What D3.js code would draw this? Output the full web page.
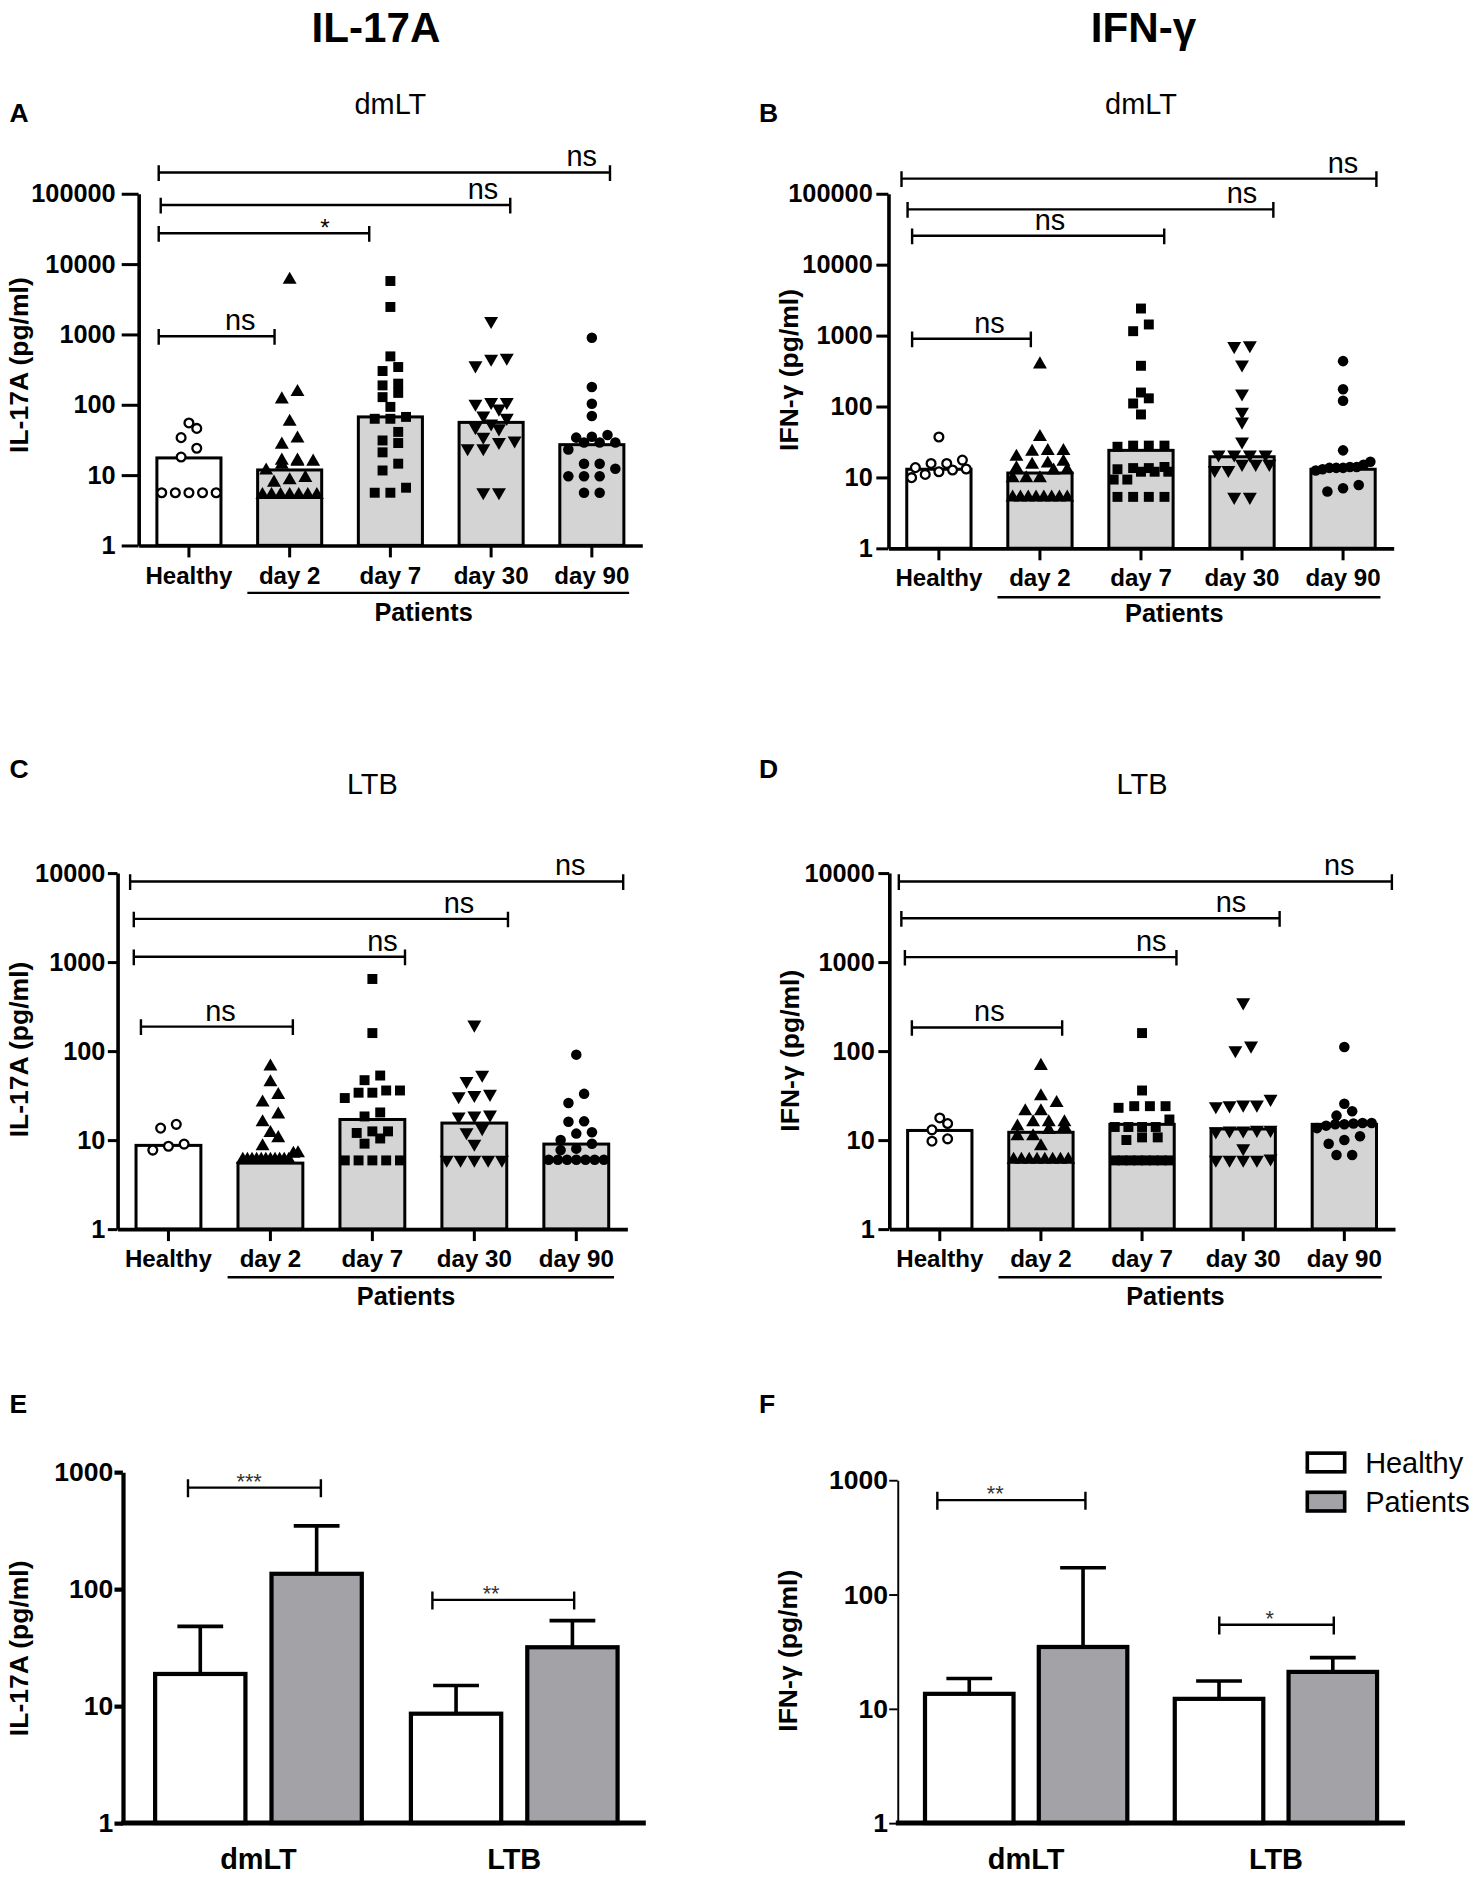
<!DOCTYPE html>
<html>
<head>
<meta charset="utf-8">
<script src="https://cdn.jsdelivr.net/npm/d3@7"></script>
<style>
  body { margin: 0; background: #fff; }
  svg text { font-family: Arial, "Liberation Sans", sans-serif; fill: #000; }
</style>
</head>
<body>
<script>
// ---------- data ----------
var categories = ["Healthy", "day 2", "day 7", "day 30", "day 90"];
var stimuli = ["dmLT", "LTB"];
var groups = ["Healthy", "Patients"];

// A  IL-17A, dmLT
var il17DmltBars = [17.5, 11.8, 67, 56, 27];
var il17DmltDots = [
  [55, 46, 34, 24, 18, 5.6, 5.6, 5.6, 5.6, 5.6],
  [5980, 151, 119, 57, 33, 27, 16, 16, 15.5, 15.5, 14, 11.6, 9.1, 8.4, 7.8, 5.2, 5.2, 5.2, 5.2, 5.2, 5.2, 5.2],
  [5730, 2450, 486, 343, 301, 199, 188, 147, 128, 93, 67, 63, 63, 41, 31, 28.5, 21, 14.5, 11.6, 6.6, 5.6, 5.6],
  [1550, 466, 451, 362, 109, 109, 103, 88, 70, 65, 54, 48, 46, 35, 31, 29.5, 24, 24, 5.7, 5.7],
  [897, 178, 103, 69, 37, 35, 34, 29, 29, 29, 23, 14.5, 14.5, 12.3, 9.6, 9.6, 9.6, 5.6, 5.6]
];
var il17DmltSig = ["ns", "*", "ns", "ns"];
var il17DmltSigLevels = [940, 27300, 69000, 200000];

// B  IFN-g, dmLT
var ifnDmltBars = [13, 11.5, 24, 19.5, 13];
var ifnDmltDots = [
  [37, 17.5, 15.7, 15.7, 13.7, 13.1, 12.7, 12, 11, 9.9],
  [391, 37, 23.5, 23.5, 23, 19.5, 16.6, 15.7, 15, 13.4, 12.7, 12.5, 9.7, 9.7, 9.7, 5.2, 5.2, 5.2, 5.2, 5.2, 5.2, 5.2, 5.2],
  [2400, 1430, 1150, 374, 157, 130, 110, 77, 28, 28, 28, 27, 14, 13.5, 13.5, 13, 12, 12, 12, 9.3, 9.3, 5.3, 5.3, 5.3, 5.3],
  [730, 708, 390, 152, 84, 61, 32, 21, 21, 21, 21, 15.5, 15.5, 15.5, 12.7, 12.7, 5.3, 5.3],
  [435, 175, 120, 24, 16.6, 15, 14, 14, 13.6, 13.6, 13.6, 13, 12.5, 7.8, 7, 6.3]
];
var ifnDmltSig = ["ns", "ns", "ns", "ns"];
var ifnDmltSigLevels = [900, 25500, 60100, 163000];

// C  IL-17A, LTB
var il17LtbBars = [8.7, 5.5, 17, 15.5, 9];
var il17LtbDots = [
  [15, 13.6, 9, 8.5, 7.7],
  [67, 44.5, 32, 26.4, 19.3, 15.8, 12, 10.5, 8.5, 7.1, 7, 6, 6, 6, 6, 6, 6, 6, 6, 6, 6, 6],
  [644, 159, 53, 47, 36, 36, 34, 34, 29.6, 20.4, 18.4, 12.5, 12.5, 12, 10.4, 9.1, 5.9, 5.9, 5.9, 5.9, 5.9],
  [198, 54, 46, 33, 32, 31, 19.3, 18.8, 18.4, 13.6, 12.2, 9.1, 6, 6, 6, 6, 6],
  [91, 33, 26, 16.2, 16, 12.2, 11.8, 10, 9.1, 8, 7.7, 6, 6, 6, 6, 6, 6, 6]
];
var il17LtbSig = ["ns", "ns", "ns", "ns"];
var il17LtbSigLevels = [188, 1143, 3050, 8020];

// D  IFN-g, LTB
var ifnLtbBars = [12.8, 12.2, 15, 13.3, 15];
var ifnLtbDots = [
  [17.7, 15.3, 13, 10.3, 9.7],
  [68, 31, 26, 21, 21, 15.8, 15.8, 15.8, 14.2, 14, 13, 11, 11, 8.5, 6, 6, 6, 6, 6, 6, 6, 6],
  [159, 36, 24, 24, 24, 23, 17, 14, 14, 14, 14, 10.7, 10.7, 10, 5.9, 5.9, 5.9, 5.9, 5.9, 5.9, 5.9, 5.9],
  [352, 115, 102, 29, 25, 25, 24.5, 24, 13, 13, 12.8, 12.8, 12.5, 8.1, 6.2, 6, 6, 6, 6],
  [111, 25.6, 21, 18.8, 15.5, 15.5, 15.3, 15, 15, 14.5, 13.6, 11, 10, 9.1, 6.8, 6.8]
];
var ifnLtbSig = ["ns", "ns", "ns", "ns"];
var ifnLtbSigLevels = [184, 1133, 3100, 8020];

// E  IL-17A summary (mean, upper error)
var il17HealthyMean = [18.8, 8.6];
var il17HealthyErr = [48, 15];
var il17PatientMean = [135, 31.8];
var il17PatientErr = [347, 53.7];
var il17SumSig = ["***", "**"];
var il17SumSigLevels = [736, 80.8];

// F  IFN-g summary
var ifnHealthyMean = [13.5, 12.2];
var ifnHealthyErr = [18.4, 17.5];
var ifnPatientMean = [34.7, 21];
var ifnPatientErr = [171, 28];
var ifnSumSig = ["**", "*"];
var ifnSumSigLevels = [668, 54.2];

// ---------- canvas ----------
var W = 1225, H = 1566.9;
var svg = d3.select("body").append("svg")
    .attr("width", 1476)
    .attr("height", 1888)
    .attr("viewBox", "0 0 " + W + " " + H);

svg.append("text").attr("x", 312).attr("y", 34.5)
    .attr("text-anchor", "middle").style("font-size", "35px").style("font-weight", "bold")
    .text("IL-17A");
svg.append("text").attr("x", 949).attr("y", 34.5)
    .attr("text-anchor", "middle").style("font-size", "35px").style("font-weight", "bold")
    .text("IFN-γ");

// scatter-dot layout: points closer than rowH pixels share a row and are spread sideways
function swarm(vals, y, rowH, maxW, gap) {
  var pts = vals.slice().sort(d3.ascending).map(function(v) { return { v: v, y: y(v), dx: 0 }; });
  var rows = [], cur = null;
  pts.forEach(function(p) {
    if (cur && cur[0].y - p.y < rowH) cur.push(p);
    else { cur = [p]; rows.push(cur); }
  });
  rows.forEach(function(r) {
    var n = r.length;
    if (n === 1) return;
    var s = Math.min(gap, maxW / (n - 1));
    r.forEach(function(p, i) { p.dx = (i - (n - 1) / 2) * s; });
  });
  return pts;
}

var shapes = [d3.symbolCircle, d3.symbolTriangle, d3.symbolSquare, d3.symbolTriangle, d3.symbolCircle];
var shapeSize = [42, 58, 68, 58, 60];

function dotPanel(cfg) {
  var g = svg.append("g");
  var x = d3.scaleBand().domain(categories).range([cfg.x0, cfg.x1])
      .paddingInner(0.364).paddingOuter(0.182);
  var y = d3.scaleLog().domain([1, cfg.top]).range([cfg.yb, cfg.yt]);
  var cx = function(i) { return x(categories[0]) + x.bandwidth() / 2 + i * x.step(); };
  var ticks = d3.range(0, Math.log10(cfg.top) + 1).map(function(p) { return Math.pow(10, p); });

  // bars
  g.selectAll(".bar").data(cfg.bars).enter().append("rect")
      .attr("x", function(d, i) { return x(categories[i]); })
      .attr("width", x.bandwidth())
      .attr("y", function(d) { return y(d); })
      .attr("height", function(d) { return cfg.yb - y(d); })
      .attr("fill", function(d, i) { return i === 0 ? "#fff" : "#d4d4d4"; })
      .attr("stroke", "#000").attr("stroke-width", 2.5);

  // dots
  cfg.dots.forEach(function(vals, i) {
    var pts = swarm(vals, y, 8, x.bandwidth() - 8, 13);
    g.selectAll(".dot" + i).data(pts).enter().append("path")
        .attr("d", d3.symbol().type(shapes[i]).size(shapeSize[i]))
        .attr("transform", function(p) {
          return "translate(" + (cx(i) + p.dx) + "," + p.y + ")" + (i === 3 ? " rotate(180)" : "");
        })
        .attr("fill", i === 0 ? "#fff" : "#000")
        .attr("stroke", "#000")
        .attr("stroke-width", i === 0 ? 1.9 : 0);
  });

  // axes
  var ya = g.append("g").attr("transform", "translate(" + cfg.x0 + ",0)")
      .call(d3.axisLeft(y).tickValues(ticks).tickFormat(d3.format("d"))
        .tickSize(cfg.tick).tickPadding(cfg.pad).tickSizeOuter(0));
  ya.select(".domain").attr("stroke-width", 3);
  ya.selectAll(".tick line").attr("stroke-width", 2.5);
  ya.selectAll("text").style("font-size", "21px").style("font-weight", "bold");

  var xa = g.append("g").attr("transform", "translate(0," + cfg.yb + ")")
      .call(d3.axisBottom(x).tickSize(10).tickPadding(7.5).tickSizeOuter(0));
  xa.select(".domain").attr("stroke-width", 3);
  xa.selectAll(".tick line").attr("stroke-width", 2.5);
  xa.selectAll("text").style("font-size", "20px").style("font-weight", "bold");

  // patients underline
  g.append("line").attr("x1", cx(0.58)).attr("x2", cx(4.37))
      .attr("y1", cfg.lineY).attr("y2", cfg.lineY)
      .attr("stroke", "#000").attr("stroke-width", 2);
  g.append("text").attr("x", cx(2.33)).attr("y", cfg.patientsY)
      .attr("text-anchor", "middle").style("font-size", "21px").style("font-weight", "bold")
      .text("Patients");

  // significance brackets
  cfg.sig.forEach(function(lab, k) {
    var geo = cfg.sigGeo[k], by = y(cfg.sigLevels[k]);
    var xa1 = cx(geo[0]), xb = cx(geo[1]);
    g.append("path")
        .attr("d", "M" + xa1 + "," + (by - 6) + "V" + (by + 7) + "M" + xa1 + "," + by +
                   "H" + xb + "M" + xb + "," + (by - 6) + "V" + (by + 7))
        .attr("fill", "none").attr("stroke", "#000").attr("stroke-width", 2);
    g.append("text").attr("x", cx(geo[2]))
        .attr("y", lab === "ns" ? by - 5 : by + 2)
        .attr("text-anchor", "middle")
        .style("font-size", lab === "ns" ? "24px" : "20px")
        .text(lab);
  });

  // titles
  g.append("text").attr("x", cfg.letterX).attr("y", cfg.letterY)
      .style("font-size", "22px").style("font-weight", "bold").text(cfg.letter);
  g.append("text").attr("x", (cfg.x0 + cfg.x1) / 2).attr("y", cfg.titleY)
      .attr("text-anchor", "middle").style("font-size", "24px").text(cfg.title);
  g.append("text")
      .attr("transform", "translate(" + cfg.ylabX + "," + cfg.ylabY + ") rotate(-90)")
      .attr("text-anchor", "middle").attr("dominant-baseline", "central")
      .style("font-size", "22px").style("font-weight", "bold").text(cfg.ylab);
}

dotPanel({
  letter: "A", title: "dmLT", ylab: "IL-17A (pg/ml)",
  bars: il17DmltBars, dots: il17DmltDots, sig: il17DmltSig, sigLevels: il17DmltSigLevels,
  sigGeo: [[-0.3, 0.85, 0.51], [-0.3, 1.79, 1.35], [-0.28, 3.19, 2.92], [-0.3, 4.18, 3.9]],
  x0: 115, x1: 533, yb: 452.6, yt: 160.7, top: 1e5, tick: 14, pad: 5,
  letterX: 8, letterY: 101, titleY: 95, ylabX: 16, ylabY: 303, lineY: 492, patientsY: 515
});
dotPanel({
  letter: "B", title: "dmLT", ylab: "IFN-γ (pg/ml)",
  bars: ifnDmltBars, dots: ifnDmltDots, sig: ifnDmltSig, sigLevels: ifnDmltSigLevels,
  sigGeo: [[-0.265, 0.91, 0.5], [-0.265, 2.23, 1.1], [-0.31, 3.31, 3.0], [-0.37, 4.33, 4.0]],
  x0: 737.3, x1: 1156.6, yb: 455, yt: 160.7, top: 1e5, tick: 10, pad: 3,
  letterX: 630, letterY: 101, titleY: 95, ylabX: 655, ylabY: 307, lineY: 495.6, patientsY: 516.5
});
dotPanel({
  letter: "C", title: "LTB", ylab: "IL-17A (pg/ml)",
  bars: il17LtbBars, dots: il17LtbDots, sig: il17LtbSig, sigLevels: il17LtbSigLevels,
  sigGeo: [[-0.27, 1.22, 0.51], [-0.34, 2.32, 2.1], [-0.34, 3.33, 2.85], [-0.376, 4.46, 3.94]],
  x0: 97.5, x1: 520.6, yb: 1020, yt: 724.5, top: 1e4, tick: 8, pad: 2,
  letterX: 8, letterY: 646, titleY: 659, ylabX: 16, ylabY: 871, lineY: 1060, patientsY: 1083
});
dotPanel({
  letter: "D", title: "LTB", ylab: "IFN-γ (pg/ml)",
  bars: ifnLtbBars, dots: ifnLtbDots, sig: ifnLtbSig, sigLevels: ifnLtbSigLevels,
  sigGeo: [[-0.276, 1.21, 0.49], [-0.345, 2.34, 2.09], [-0.38, 3.36, 2.88], [-0.405, 4.47, 3.95]],
  x0: 738, x1: 1157.7, yb: 1020, yt: 724.5, top: 1e4, tick: 9, pad: 3,
  letterX: 630, letterY: 646, titleY: 659, ylabX: 656, ylabY: 872, lineY: 1060, patientsY: 1083
});

// ---------- summary bar panels ----------
function summaryPanel(cfg) {
  var g = svg.append("g");
  var x0 = d3.scaleBand().domain(stimuli).range([cfg.x0, cfg.xr])
      .paddingInner(cfg.pIn).paddingOuter(cfg.pOut);
  var x1 = d3.scaleBand().domain(groups).range([0, x0.bandwidth()]).paddingInner(cfg.pBar);
  var y = d3.scaleLog().domain([1, 1000]).range([cfg.yb, cfg.yt]);

  var rows = [];
  stimuli.forEach(function(s, i) {
    rows.push({ s: s, grp: "Healthy", m: cfg.hMean[i], e: cfg.hErr[i] });
    rows.push({ s: s, grp: "Patients", m: cfg.pMean[i], e: cfg.pErr[i] });
  });
  var bx = function(d) { return x0(d.s) + x1(d.grp); };
  var bw = x1.bandwidth();

  // error bars (upper only)
  rows.forEach(function(d) {
    var c = bx(d) + bw / 2;
    g.append("path")
        .attr("d", "M" + c + "," + y(d.m) + "V" + y(d.e) + "M" + (c - 19) + "," + y(d.e) + "H" + (c + 19))
        .attr("stroke", "#000").attr("stroke-width", 3).attr("fill", "none");
  });
  g.selectAll(".sbar").data(rows).enter().append("rect")
      .attr("x", bx).attr("width", bw)
      .attr("y", function(d) { return y(d.m); })
      .attr("height", function(d) { return cfg.yb - y(d.m); })
      .attr("fill", function(d) { return d.grp === "Healthy" ? "#fff" : "#a3a3a7"; })
      .attr("stroke", "#000").attr("stroke-width", 3.5);

  var ya = g.append("g").attr("transform", "translate(" + cfg.x0 + ",0)")
      .call(d3.axisLeft(y).tickValues([1, 10, 100, 1000]).tickFormat(d3.format("d"))
        .tickSize(7).tickPadding(1).tickSizeOuter(0));
  ya.select(".domain").attr("stroke-width", cfg.yAxisW);
  ya.selectAll(".tick line").attr("stroke-width", cfg.yAxisW);
  ya.selectAll("text").style("font-size", "22px").style("font-weight", "bold");

  g.append("line").attr("x1", cfg.x0 - 1.5).attr("x2", cfg.x1)
      .attr("y1", cfg.yb).attr("y2", cfg.yb).attr("stroke", "#000").attr("stroke-width", 4);
  g.selectAll(".cat").data(stimuli).enter().append("text")
      .attr("x", function(s) { return x0(s) + x0.bandwidth() / 2; })
      .attr("y", cfg.yb + 38)
      .attr("text-anchor", "middle").style("font-size", "24px").style("font-weight", "bold")
      .text(function(s) { return s; });

  cfg.sig.forEach(function(lab, k) {
    var geo = cfg.sigGeo[k], s = stimuli[k], by = y(cfg.sigLevels[k]);
    var xa = x0(s) + geo[0] * x0.bandwidth(), xb = x0(s) + geo[1] * x0.bandwidth();
    g.append("path")
        .attr("d", "M" + xa + "," + (by - 7) + "V" + (by + 8) + "M" + xa + "," + by +
                   "H" + xb + "M" + xb + "," + (by - 7) + "V" + (by + 8))
        .attr("fill", "none").attr("stroke", "#000").attr("stroke-width", 2);
    g.append("text").attr("x", x0(s) + geo[2] * x0.bandwidth()).attr("y", by + 1)
        .attr("text-anchor", "middle").style("font-size", "18px").style("fill", "#333")
        .text(lab);
  });

  g.append("text").attr("x", cfg.letterX).attr("y", 1173)
      .style("font-size", "22px").style("font-weight", "bold").text(cfg.letter);
  g.append("text")
      .attr("transform", "translate(" + cfg.ylabX + "," + cfg.ylabY + ") rotate(-90)")
      .attr("text-anchor", "middle").attr("dominant-baseline", "central")
      .style("font-size", "22px").style("font-weight", "bold").text(cfg.ylab);
}

summaryPanel({
  letter: "E", ylab: "IL-17A (pg/ml)",
  hMean: il17HealthyMean, hErr: il17HealthyErr, pMean: il17PatientMean, pErr: il17PatientErr,
  sig: il17SumSig, sigLevels: il17SumSigLevels,
  sigGeo: [[0.159, 0.802, 0.455], [0.104, 0.79, 0.388]],
  x0: 102, xr: 539.3, x1: 536, pIn: 0.192, pOut: 0.126, pBar: 0.224,
  yb: 1513, yt: 1221.7, yAxisW: 3.5, letterX: 8, ylabX: 16, ylabY: 1368
});
summaryPanel({
  letter: "F", ylab: "IFN-γ (pg/ml)",
  hMean: ifnHealthyMean, hErr: ifnHealthyErr, pMean: ifnPatientMean, pErr: ifnPatientErr,
  sig: ifnSumSig, sigLevels: ifnSumSigLevels,
  sigGeo: [[0.061, 0.793, 0.347], [0.22, 0.786, 0.47]],
  x0: 745, xr: 1165.6, x1: 1166, pIn: 0.19, pOut: 0.1095, pBar: 0.222,
  yb: 1513, yt: 1228.4, yAxisW: 1.6, letterX: 630, ylabX: 654, ylabY: 1370
});

// legend (panel F)
var legend = svg.append("g").attr("transform", "translate(1085,1206)");
groups.forEach(function(name, i) {
  legend.append("rect").attr("x", 0).attr("y", i * 32.5).attr("width", 31).attr("height", 15.5)
      .attr("fill", i === 0 ? "#fff" : "#a3a3a7").attr("stroke", "#000").attr("stroke-width", 3);
  legend.append("text").attr("x", 48).attr("y", i * 32.5 + 8).attr("dominant-baseline", "central")
      .style("font-size", "24px").text(name);
});
</script>
</body>
</html>
